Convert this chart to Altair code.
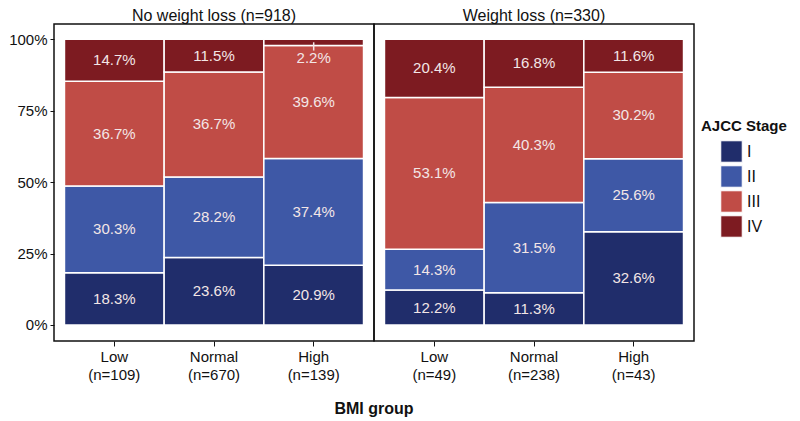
import altair as alt
import pandas as pd

panels = ["No weight loss (n=918)", "Weight loss (n=330)"]
bmi_groups = ["Low", "Normal", "High"]
group_n = {
    "No weight loss (n=918)": [109, 670, 139],
    "Weight loss (n=330)": [49, 238, 43],
}
stages = ["I", "II", "III", "IV"]
# percentages per stage (I, II, III, IV) for Low, Normal, High
pct_no_loss = {
    "Low": [18.3, 30.3, 36.7, 14.7],
    "Normal": [23.6, 28.2, 36.7, 11.5],
    "High": [20.9, 37.4, 39.6, 2.2],
}
pct_loss = {
    "Low": [12.2, 14.3, 53.1, 20.4],
    "Normal": [11.3, 31.5, 40.3, 16.8],
    "High": [32.6, 25.6, 30.2, 11.6],
}
colors = ["#202d6b", "#3e58a6", "#c04c46", "#7d1b21"]

rows = []
label_order = []
for panel, table in zip(panels, [pct_no_loss, pct_loss]):
    for g, n in zip(bmi_groups, group_n[panel]):
        lab = f"{g}|(n={n})"
        label_order.append(lab)
        vals = table[g]
        tot = sum(vals)
        cum = 0.0
        for s, v in zip(stages, vals):
            y0 = cum / tot
            cum += v
            y1 = cum / tot
            small = v < 5
            mid = (y0 + y1) / 2
            rows.append(dict(panel=panel, bmi=lab, stage=s, pct=v, y0=y0, y1=y1,
                             ty=(y0 - 0.045) if small else mid,
                             small=small, rtop=mid, rbot=y0 - 0.018,
                             text=f"{v:.1f}%"))
df = pd.DataFrame(rows)

FONT = "Liberation Sans"

xenc = alt.X("bmi:N", sort=label_order, title=None,
             scale=alt.Scale(paddingInner=0, paddingOuter=0.105),
             axis=alt.Axis(labelExpr="split(datum.label, '|')", labelFontSize=15,
                           labelColor="#111", labelLineHeight=18, tickSize=5,
                           tickColor="#111", domain=False, labelAngle=0, labelPadding=3))
yscale = alt.Scale(domain=[-0.056, 1.053], nice=False, zero=False)

bars = alt.Chart().mark_bar(stroke="white", strokeWidth=1.5).encode(
    x=xenc,
    y=alt.Y("y0:Q", scale=yscale, title=None,
            axis=alt.Axis(values=[0, 0.25, 0.5, 0.75, 1], format=".0%", labelFontSize=15,
                          labelColor="#111", tickSize=4, tickColor="#111", domain=False,
                          grid=False, labelPadding=3)),
    y2="y1:Q",
    color=alt.Color("stage:N", sort=stages,
                    scale=alt.Scale(domain=stages, range=colors),
                    legend=alt.Legend(title="AJCC Stage", orient="none", legendX=647, legendY=95,
                                      symbolType="square", symbolSize=460,
                                      symbolStrokeColor="white", symbolStrokeWidth=1,
                                      titleFontSize=15, titleFontWeight="bold", titleColor="#111",
                                      labelFontSize=16, labelColor="#111", symbolOffset=19,
                                      rowPadding=-4, titlePadding=6)),
)

texts = alt.Chart().mark_text(color="#f3e6e6", fontSize=15, font=FONT).encode(
    x=alt.X("bmi:N", sort=label_order),
    y=alt.Y("ty:Q"),
    text="text:N",
)

ticks = alt.Chart().mark_rule(color="#f3e6e6", strokeWidth=1.5).transform_filter(
    "datum.small"
).encode(
    x=alt.X("bmi:N", sort=label_order),
    y="rtop:Q",
    y2="rbot:Q",
)

chart = alt.layer(bars, texts, ticks, data=df).properties(
    width=320, height=317
).facet(
    column=alt.Column("panel:N", sort=panels,
                      header=alt.Header(title="BMI group", titleOrient="bottom", labelOrient="top",
                                        labelFontSize=16, labelColor="#111", labelPadding=0,
                                        titleFontSize=16, titleFontWeight="bold", titleColor="#111",
                                        titlePadding=50)),
    spacing=0,
    bounds="flush",
).resolve_scale(
    x="independent"
).properties(
    padding=0
).configure(
    font=FONT
).configure_view(
    stroke="#111", strokeWidth=1.5
).configure_facet(
    spacing=0
)

chart.save("out.html", embed_options={"renderer": "svg", "actions": False})
